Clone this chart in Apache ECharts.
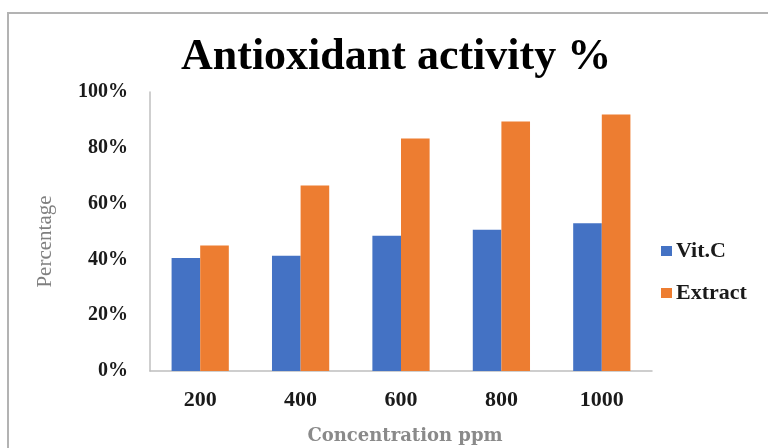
<!DOCTYPE html>
<html>
<head>
<meta charset="utf-8">
<script src="https://cdn.jsdelivr.net/npm/echarts@6/dist/echarts.min.js"></script>
<style>
  html, body { margin: 0; padding: 0; background: #ffffff; }
  #chart { width: 768px; height: 448px; }
</style>
</head>
<body>
<div id="chart"></div>
<script>
// Concentrations tested (ppm)
const concentrations = ['200', '400', '600', '800', '1000'];
// Antioxidant activity in percent
const vitC = [40.5, 41.3, 48.5, 50.6, 53.0];
const extract = [45.0, 66.5, 83.3, 89.4, 91.9];
// Percentage axis
const yMin = 0;
const yMax = 100;
const yStep = 20;

const serif = '"Liberation Serif", "Times New Roman", serif';

const chart = echarts.init(document.getElementById('chart'), null, { renderer: 'canvas' });

chart.setOption({
  backgroundColor: '#ffffff',
  animation: false,
  graphic: [{
    type: 'rect',
    shape: { x: 8, y: 13, width: 820, height: 520 },
    style: { fill: 'none', stroke: '#b3b3b3', lineWidth: 2 },
    silent: true,
    z: -1
  }],
  title: {
    text: 'Antioxidant activity %',
    left: 176,
    top: 31,
    textStyle: { fontFamily: serif, fontWeight: 'bold', fontSize: 44, color: '#000000' }
  },
  legend: {
    orient: 'vertical',
    left: 656,
    top: 235,
    itemWidth: 11,
    itemHeight: 10,
    itemGap: 20,
    icon: 'rect',
    textStyle: { fontFamily: serif, fontWeight: 'bold', fontSize: 22, color: '#1a1a1a', padding: [0, 0, 0, -1] },
    data: ['Vit.C', 'Extract']
  },
  grid: { left: 150, right: 116, top: 92, bottom: 77, outerBoundsMode: 'none', containLabel: false },
  xAxis: {
    type: 'category',
    data: concentrations,
    name: 'Concentration ppm',
    nameLocation: 'middle',
    nameGap: 56,
    nameTextStyle: { fontFamily: '"DejaVu Serif", serif', fontWeight: 'bold', fontSize: 18, color: '#8a8a8a', padding: [0, 0, 0, 8] },
    axisLine: { lineStyle: { color: '#bfbfbf', width: 1.5 } },
    axisTick: { show: false },
    axisLabel: { fontFamily: serif, fontWeight: 'bold', fontSize: 22, color: '#1a1a1a', margin: 18 }
  },
  yAxis: {
    type: 'value',
    min: yMin,
    max: yMax,
    interval: yStep,
    name: 'Percentage',
    nameLocation: 'middle',
    nameGap: 94,
    nameRotate: 90,
    nameTextStyle: { fontFamily: serif, fontSize: 21, color: '#808080', padding: [0, 20, 0, 0] },
    axisLine: { show: true, lineStyle: { color: '#bfbfbf', width: 1.5 } },
    axisTick: { show: false },
    splitLine: { show: false },
    axisLabel: { fontFamily: serif, fontWeight: 'bold', fontSize: 20, color: '#1a1a1a', margin: 22, formatter: '{value}%' }
  },
  series: [
    {
      name: 'Vit.C',
      type: 'bar',
      data: vitC,
      barGap: '0%',
      barCategoryGap: '43%',
      itemStyle: { color: '#4472C4' }
    },
    {
      name: 'Extract',
      type: 'bar',
      data: extract,
      barGap: '0%',
      barCategoryGap: '43%',
      itemStyle: { color: '#ED7D31' }
    }
  ]
});
</script>
</body>
</html>
